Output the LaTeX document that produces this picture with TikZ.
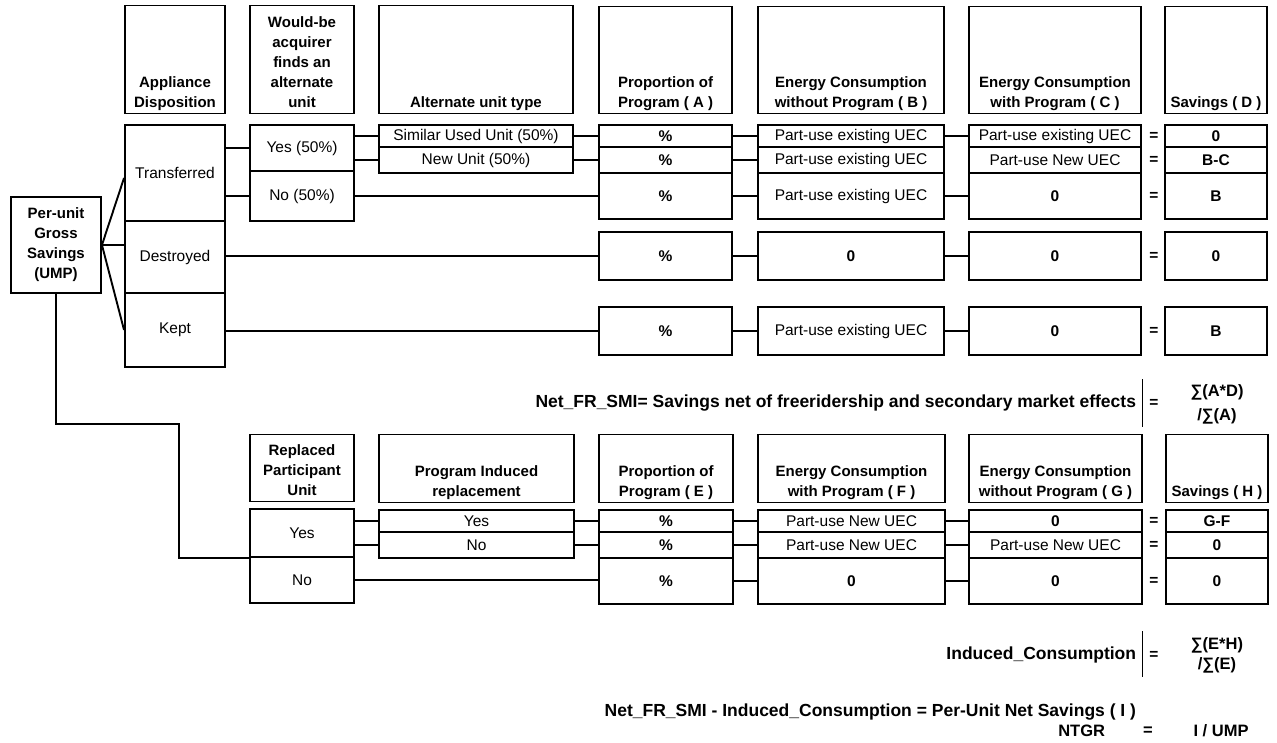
\documentclass[tikz,border=0pt]{standalone}
\usepackage{fontspec}
\setmainfont{Liberation Sans}
\newcommand\rowfont{\fontsize{15.5}{18}\selectfont}
\newcommand\rowbf{\fontsize{15.5}{18}\selectfont\bfseries}
\newcommand\hdrfont{\fontsize{15}{20}\selectfont\bfseries}
\newcommand\formfont{\fontsize{17.5}{20}\selectfont\bfseries}
\newcommand\sumfont{\fontsize{16.5}{20}\selectfont\bfseries}
\newcommand\cellbox[7][]{%
  \node[cell,minimum width={(#5)-(#3)},minimum height={(#6)-(#4)},#1] (#2) at ({((#3)+(#5))/2},{((#4)+(#6))/2}) {#7};}
\newcommand\hdrbox[6]{%
  \pgfmathsetmacro\hdrw{(#4)-(#2)}\pgfmathsetmacro\hdrh{(#5)-(#3)-1}%
  \node[cell,minimum width={(#4)-(#2)},minimum height={(#5)-(#3)}] (#1) at ({((#2)+(#4))/2},{((#3)+(#5))/2})
   {\parbox[c][\hdrh pt][b]{\hdrw pt}{\centering\hdrfont #6\strut}};}
\begin{document}
\begin{tikzpicture}[x=1pt,y=-1pt,line width=1.9pt,
  cell/.style={draw,inner sep=0pt,font=\rowfont,align=center},
  bf/.style={font=\rowbf},
  eqs/.style={font=\rowbf,inner sep=0pt},
  ftext/.style={font=\formfont,inner sep=0pt},
  stext/.style={font=\sumfont,inner sep=0pt},
  bar/.style={line width=1pt}]
\useasboundingbox[fill=white] (0,0) rectangle (1277,743);

% ---------- top headers ----------
\hdrbox{hAD}{125}{8}{225}{111}{Appliance\\Disposition}
\hdrbox{hWB}{250}{8}{354}{111}{Would-be\\acquirer\\finds an\\alternate\\unit}
\hdrbox{hAU}{379}{8}{573}{111}{Alternate unit type}
\hdrbox{hA}{599}{9}{732}{111}{Proportion of\\Program ( A )}
\hdrbox{hB}{758}{9}{944}{111}{Energy Consumption\\without Program ( B )}
\hdrbox{hC}{969}{9}{1141}{111}{Energy Consumption\\with Program ( C )}
\hdrbox{hD}{1165}{9}{1267}{111}{Savings ( D )}

% ---------- top rows ----------
\cellbox[font=\hdrfont]{per}{11}{197}{101}{293}{Per-unit\\Gross\\Savings\\(UMP)}
\cellbox{trans}{125}{125}{225}{221}{Transferred}
\cellbox{dest}{125}{221}{225}{293}{Destroyed}
\cellbox{kept}{125}{293}{225}{367}{Kept}
\cellbox{yes50}{250}{125}{354}{171}{Yes (50\%)}
\cellbox{no50}{250}{171}{354}{221}{No (50\%)}
\cellbox{sim}{379}{125}{573}{147}{Similar Used Unit (50\%)}
\cellbox{newu}{379}{147}{573}{173}{New Unit (50\%)}

\cellbox[bf]{pA1}{599}{125}{732}{147}{\%}
\cellbox[bf]{pA2}{599}{147}{732}{173}{\%}
\cellbox[bf]{pA3}{599}{173}{732}{219}{\%}
\cellbox[bf]{pA4}{599}{232}{732}{280}{\%}
\cellbox[bf]{pA5}{599}{307}{732}{355}{\%}

\cellbox{B1}{758}{125}{944}{147}{Part-use existing UEC}
\cellbox{B2}{758}{147}{944}{173}{Part-use existing UEC}
\cellbox{B3}{758}{173}{944}{219}{Part-use existing UEC}
\cellbox[bf]{B4}{758}{232}{944}{280}{0}
\cellbox{B5}{758}{307}{944}{355}{Part-use existing UEC}

\cellbox{C1}{969}{125}{1141}{147}{Part-use existing UEC}
\cellbox{C2}{969}{147}{1141}{173}{Part-use New UEC}
\cellbox[bf]{C3}{969}{173}{1141}{219}{0}
\cellbox[bf]{C4}{969}{232}{1141}{280}{0}
\cellbox[bf]{C5}{969}{307}{1141}{355}{0}

\cellbox[bf]{D1}{1165}{125}{1267}{147}{0}
\cellbox[bf]{D2}{1165}{147}{1267}{173}{B-C}
\cellbox[bf]{D3}{1165}{173}{1267}{219}{B}
\cellbox[bf]{D4}{1165}{232}{1267}{280}{0}
\cellbox[bf]{D5}{1165}{307}{1267}{355}{B}

\node[eqs] (e1) at (1154,136) {=};
\node[eqs] (e2) at (1154,160) {=};
\node[eqs] (e3) at (1154,196) {=};
\node[eqs] (e4) at (1154,256) {=};
\node[eqs] (e5) at (1154,331) {=};

% ---------- top connectors ----------
\draw (per.east) -- ([yshift=-5pt]trans.west);
\draw (per.east) -- (per.east -| dest.west);
\draw (per.east) -- (kept.west);
\draw (yes50.west -| trans.east) -- (yes50.west);
\draw (no50.west -| trans.east) -- (no50.west);
\draw (sim.west -| yes50.east) -- (sim.west);
\draw (newu.west -| yes50.east) -- (newu.west);
\draw (sim.east) -- (pA1.west);
\draw (newu.east) -- (pA2.west);
\draw (no50.east) -- (pA3.west);
\draw (pA4.west -| dest.east) -- (pA4.west);
\draw (pA5.west -| kept.east) -- (pA5.west);
\foreach \i in {1,...,5} {\draw (pA\i.east) -- (B\i.west);}
\foreach \i in {1,3,4,5} {\draw (B\i.east) -- (C\i.west);}

% ---------- formula 1 ----------
\node[ftext,anchor=east] (netfr) at (1137,403) {Net\_FR\_SMI= Savings net of freeridership and secondary market effects};
\coordinate (b1t) at (1142,379);
\coordinate (b1b) at (1142,427);
\draw[bar] (b1t) -- (b1b);
\node[eqs] (ef1) at (1154,403) {=};
\node[stext] (sad) at (1217,392) {∑(A*D)};
\node[stext] (sa) at (1217,416) {/∑(A)};

% ---------- bottom headers ----------
\hdrbox{hR}{250}{437}{354}{499}{Replaced\\Participant\\Unit}
\hdrbox{hPI}{379}{437}{574}{500}{Program Induced\\replacement}
\hdrbox{hE}{599}{437}{733}{500}{Proportion of\\Program ( E )}
\hdrbox{hF}{758}{437}{945}{500}{Energy Consumption\\with Program ( F )}
\hdrbox{hG}{969}{437}{1142}{500}{Energy Consumption\\without Program ( G )}
\hdrbox{hH}{1166}{437}{1268}{500}{Savings ( H )}

% ---------- bottom rows ----------
\cellbox{rY}{250}{509}{354}{557}{Yes}
\cellbox{rN}{250}{557}{354}{603}{No}
\cellbox{piY}{379}{510}{574}{532}{Yes}
\cellbox{piN}{379}{532}{574}{558}{No}

\cellbox[bf]{E1}{599}{510}{733}{532}{\%}
\cellbox[bf]{E2}{599}{532}{733}{558}{\%}
\cellbox[bf]{E3}{599}{558}{733}{604}{\%}

\cellbox{F1}{758}{510}{945}{532}{Part-use New UEC}
\cellbox{F2}{758}{532}{945}{558}{Part-use New UEC}
\cellbox[bf]{F3}{758}{558}{945}{604}{0}

\cellbox[bf]{G1}{969}{510}{1142}{532}{0}
\cellbox{G2}{969}{532}{1142}{558}{Part-use New UEC}
\cellbox[bf]{G3}{969}{558}{1142}{604}{0}

\cellbox[bf]{H1}{1166}{510}{1268}{532}{G-F}
\cellbox[bf]{H2}{1166}{532}{1268}{558}{0}
\cellbox[bf]{H3}{1166}{558}{1268}{604}{0}

\node[eqs] (g1) at (1154,521) {=};
\node[eqs] (g2) at (1154,545) {=};
\node[eqs] (g3) at (1154,581) {=};

% ---------- bottom connectors ----------
\coordinate (bend) at (179,424);
\draw (per.south) |- (bend) |- (rY.south west);
\draw (piY.west -| rY.east) -- (piY.west);
\draw (piN.west -| rY.east) -- (piN.west);
\draw (rN.east) -- (rN.east -| E3.west);
\draw (piY.east) -- (E1.west);
\draw (piN.east) -- (E2.west);
\foreach \i in {1,2,3} {\draw (E\i.east) -- (F\i.west); \draw (F\i.east) -- (G\i.west);}

% ---------- formula 2 ----------
\node[ftext,anchor=east] (ind) at (1137,655) {Induced\_Consumption};
\coordinate (b2t) at (1142,631);
\coordinate (b2b) at (1142,677);
\draw[bar] (b2t) -- (b2b);
\node[eqs] (ef2) at (1154,655) {=};
\node[stext] (seh) at (1217,645) {∑(E*H)};
\node[stext] (se) at (1217,665) {/∑(E)};

% ---------- formula 3 ----------
\node[ftext,anchor=east] (pnet) at (1137,712) {Net\_FR\_SMI - Induced\_Consumption = Per-Unit Net Savings ( I )};
\node[stext,anchor=east] (ntgr) at (1106,731) {NTGR};
\node[stext] (ef3) at (1148,731) {=};
\node[stext] (iump) at (1221,731) {I / UMP};
\end{tikzpicture}
\end{document}
